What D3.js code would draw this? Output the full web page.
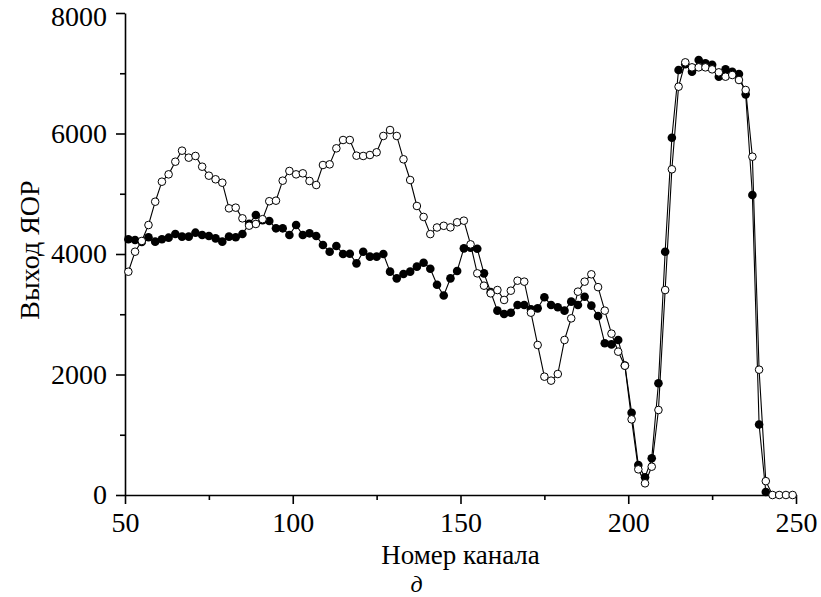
<!DOCTYPE html>
<html>
<head>
<meta charset="utf-8">
<script src="https://cdn.jsdelivr.net/npm/d3@7"></script>
<style>
    body { margin: 0; background: #fff; }
</style>
</head>
<body>
<div id="canvas"></div>
<script>
// channel numbers (every second channel)
var channels = [
    51, 53, 55, 57, 59, 61, 63, 65, 67, 69, 71, 73, 75, 77, 79, 81, 83, 85, 87, 89,
    91, 93, 95, 97, 99, 101, 103, 105, 107, 109, 111, 113, 115, 117, 119, 121, 123, 125, 127, 129,
    131, 133, 135, 137, 139, 141, 143, 145, 147, 149, 151, 153, 155, 157, 159, 161, 163, 165, 167, 169,
    171, 173, 175, 177, 179, 181, 183, 185, 187, 189, 191, 193, 195, 197, 199, 201, 203, 205, 207, 209,
    211, 213, 215, 217, 219, 221, 223, 225, 227, 229, 231, 233, 235, 237, 239, 241, 243, 245, 247, 249
];

// filled circles
var filledValues = [
    4244, 4232, 4200, 4277, 4205, 4244, 4271, 4332, 4288, 4288, 4354, 4316, 4299, 4260, 4205, 4288, 4277, 4332, 4500, 4647,
    4560, 4548, 4426, 4426, 4315, 4481, 4315, 4343, 4299, 4149, 4038, 4133, 4000, 4005, 3845, 4038, 3956, 3956, 4000, 3707,
    3596, 3668, 3707, 3790, 3856, 3756, 3490, 3310, 3596, 3718, 4094, 4105, 4088, 3679, 3370, 3060, 3004, 3026, 3154, 3154,
    3082, 3098, 3281, 3154, 3115, 3060, 3209, 3154, 3290, 3143, 2971, 2518, 2500, 2573, 2150, 1366, 498, 293, 609, 1854,
    4038, 5930, 7054, 7150, 7026, 7220, 7165, 7140, 6943, 7065, 7026, 6988, 6650, 4980, 1170, 50
];

// open circles
var openValues = [
    3706, 4038, 4216, 4481, 4868, 5200, 5322, 5532, 5715, 5599, 5627, 5449, 5300, 5240, 5183, 4758, 4769, 4592, 4470, 4498,
    4578, 4876, 4885, 5217, 5378, 5322, 5339, 5212, 5145, 5477, 5488, 5754, 5892, 5892, 5632, 5627, 5643, 5688, 5959, 6058,
    5959, 5572, 5228, 4797, 4615, 4330, 4440, 4468, 4442, 4526, 4553, 4160, 3679, 3474, 3347, 3402, 3237, 3391, 3557, 3541,
    3026, 2490, 1964, 1898, 2008, 2573, 2932, 3375, 3541, 3663, 3450, 3060, 2678, 2379, 2146, 1256, 426, 194, 470, 1411,
    3402, 5406, 6777, 7181, 7098, 7098, 7098, 7065, 7015, 6943, 6971, 6888, 6722, 5615, 2080, 230, 0, 0, 0, 0
];

var xMajorTicks = [50, 100, 150, 200, 250];
var xMinorTicks = [75, 125, 175, 225];
var yMajorTicks = [0, 2000, 4000, 6000, 8000];
var yMinorTicks = [1000, 3000, 5000, 7000];

var xLabel = "Номер канала";
var yLabel = "Выход ЯОР";
var panelLabel = "д";

var width = 821, height = 597;
var margin = {left: 125, right: 25, top: 13, bottom: 102};
var fontFamily = "'Liberation Serif', 'DejaVu Serif', 'Times New Roman', serif";
var fontSize = "28px";

var svg = d3.select("#canvas").append("svg")
    .attr("width", width)
    .attr("height", height)
    .attr("font-family", fontFamily);

var x = d3.scaleLinear().domain([50, 250]).range([margin.left, width - margin.right]);
var y = d3.scaleLinear().domain([0, 8000]).range([height - margin.bottom, margin.top]);

// axes
svg.append("g")
    .attr("transform", "translate(0," + y(0) + ")")
    .call(d3.axisBottom(x).tickValues(xMajorTicks).tickSize(9).tickSizeOuter(0).tickPadding(8).tickFormat(d3.format("d")));
svg.append("g")
    .attr("transform", "translate(0," + y(0) + ")")
    .call(d3.axisBottom(x).tickValues(xMinorTicks).tickSize(5).tickSizeOuter(0).tickFormat(""))
    .select(".domain").remove();

var yAxis = svg.append("g")
    .attr("transform", "translate(" + x(50) + ",0)")
    .call(d3.axisLeft(y).tickValues(yMajorTicks).tickSize(9).tickSizeOuter(0).tickPadding(9).tickFormat(d3.format("d")));
svg.append("g")
    .attr("transform", "translate(" + x(50) + ",0)")
    .call(d3.axisLeft(y).tickValues(yMinorTicks).tickSize(5).tickSizeOuter(0).tickFormat(""))
    .select(".domain").remove();

svg.selectAll(".domain, .tick line").attr("stroke", "#000").attr("stroke-width", 1.6);
svg.selectAll(".tick text")
    .style("font-family", fontFamily)
    .style("font-size", fontSize)
    .attr("fill", "#000");

// top label sits right at the edge, nudge it down so it is not clipped
yAxis.selectAll(".tick text")
    .filter(function(d) { return d === 8000; })
    .attr("dy", "0.46em");

// titles
svg.append("text")
    .attr("x", (x(50) + x(250)) / 2)
    .attr("y", 564)
    .attr("text-anchor", "middle")
    .style("font-family", fontFamily)
    .style("font-size", "27px")
    .text(xLabel);

svg.append("text")
    .attr("x", (x(50) + x(250)) / 2 - 44)
    .attr("y", 591.5)
    .attr("text-anchor", "middle")
    .style("font-family", fontFamily)
    .style("font-size", "24px")
    .style("font-style", "italic")
    .text(panelLabel);

svg.append("text")
    .attr("transform", "translate(39," + (y(4000) - 4) + ") rotate(-90)")
    .attr("text-anchor", "middle")
    .style("font-family", fontFamily)
    .style("font-size", fontSize)
    .text(yLabel);

// series
var filledData = channels.slice(0, filledValues.length).map(function(c, i) {
    return {ch: c, v: filledValues[i]};
});
var openData = channels.map(function(c, i) {
    return {ch: c, v: openValues[i]};
});

var line = d3.line()
    .x(function(d) { return x(d.ch); })
    .y(function(d) { return y(d.v); });

svg.append("path")
    .datum(filledData)
    .attr("d", line)
    .attr("fill", "none")
    .attr("stroke", "#000")
    .attr("stroke-width", 1.1);

svg.append("path")
    .datum(openData)
    .attr("d", line)
    .attr("fill", "none")
    .attr("stroke", "#000")
    .attr("stroke-width", 1.1);

svg.append("g").selectAll("circle")
    .data(filledData)
    .enter()
    .append("circle")
    .attr("cx", function(d) { return x(d.ch); })
    .attr("cy", function(d) { return y(d.v); })
    .attr("r", 4.3)
    .attr("fill", "#000");

svg.append("g").selectAll("circle")
    .data(openData)
    .enter()
    .append("circle")
    .attr("cx", function(d) { return x(d.ch); })
    .attr("cy", function(d) { return y(d.v); })
    .attr("r", 3.8)
    .attr("fill", "#fff")
    .attr("stroke", "#000")
    .attr("stroke-width", 1);
</script>
</body>
</html>
